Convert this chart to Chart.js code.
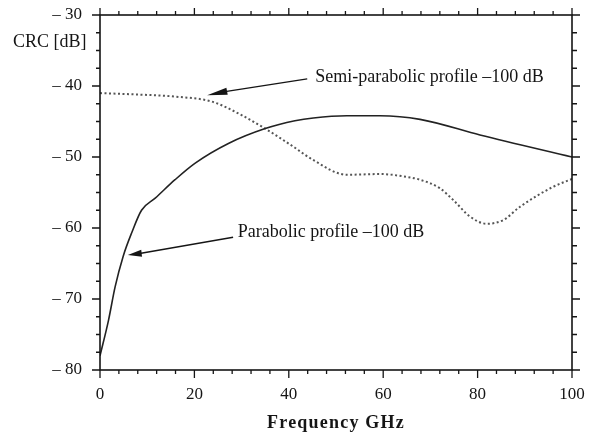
<!DOCTYPE html>
<html>
<head>
<meta charset="utf-8">
<script src="https://cdn.jsdelivr.net/npm/chart.js@4/dist/chart.umd.min.js"></script>
<style>
  html, body { margin: 0; padding: 0; background: #fff; }
  #wrap { width: 592px; height: 438px; position: relative; }
</style>
</head>
<body>
<div id="wrap"><canvas id="crcChart"></canvas></div>
<script>
// Crosstalk (CRC) vs frequency for two index profiles
const parabolicFreq = [0, 1.8, 3.2, 4.9, 6.7, 8.8, 11.7, 15.9, 20.1, 27.2, 35, 41.3, 45.2, 52.3, 59.3, 67.8, 80.5, 100];
const parabolicCrc  = [-78, -73, -68.3, -64, -60.7, -57.5, -55.8, -53.2, -50.9, -48.1, -46, -44.9, -44.5, -44.2, -44.2, -44.7, -46.9, -50];

const semiFreq = [0, 8, 16, 23.7, 30, 35, 38.1, 41.3, 45.1, 52.3, 59.3, 65, 67.8, 72, 74.9, 78.4, 81.9, 85.4, 89, 96, 100];
const semiCrc  = [-41, -41.2, -41.5, -42.2, -44.1, -46, -47.3, -48.7, -50.4, -52.5, -52.4, -52.8, -53.2, -54.4, -56.1, -58.4, -59.4, -58.9, -57, -54.2, -53.1];

const xTicks = [0, 20, 40, 60, 80, 100];
const yTicks = [-80, -70, -60, -50, -40, -30];

// labels with arrows, in data units (GHz, dB)
const notes = [
  { text: 'Semi-parabolic profile \u2013100 dB', at: [45.6, -38.7], tail: [43.9, -39.0], head: [26.5, -40.8], tip: [22.7, -41.3] },
  { text: 'Parabolic profile \u2013100 dB', at: [29.2, -60.6], tail: [28.2, -61.3], head: [8.4, -63.6], tip: [5.9, -63.8] }
];

const SERIF = "'Liberation Serif', 'DejaVu Serif', serif";
const INK = '#151515';

function toPoints(xs, ys) {
  return xs.map((x, i) => ({ x: x, y: ys[i] }));
}

// frame on all four sides plus major/minor tick marks, annotations and x title
const framePlugin = {
  id: 'frame',
  afterDraw(chart) {
    const ctx = chart.ctx;
    const a = chart.chartArea;
    const xs = chart.scales.x;
    const ys = chart.scales.y;
    ctx.save();
    ctx.strokeStyle = INK;
    ctx.lineWidth = 1.6;
    ctx.strokeRect(a.left, a.top, a.right - a.left, a.bottom - a.top);

    ctx.lineWidth = 1.3;
    ctx.beginPath();
    for (let f = 0; f <= 100; f += 4) {
      const px = xs.getPixelForValue(f);
      const major = f % 20 === 0;
      ctx.moveTo(px, a.bottom); ctx.lineTo(px, a.bottom + (major ? 8 : 4));
      ctx.moveTo(px, a.top); ctx.lineTo(px, a.top - (major ? 7 : 4));
    }
    for (let v = -80; v <= -30; v += 2.5) {
      const py = ys.getPixelForValue(v);
      const major = v % 10 === 0;
      ctx.moveTo(a.left, py); ctx.lineTo(a.left - (major ? 8 : 4), py);
      ctx.moveTo(a.right, py); ctx.lineTo(a.right + (major ? 8 : 5), py);
    }
    ctx.stroke();

    // annotations
    ctx.fillStyle = INK;
    ctx.font = '18px ' + SERIF;
    ctx.textBaseline = 'middle';
    ctx.textAlign = 'left';
    notes.forEach(n => {
      const P = p => [xs.getPixelForValue(p[0]), ys.getPixelForValue(p[1])];
      const t = P(n.at), tl = P(n.tail), hd = P(n.head), tp = P(n.tip);
      ctx.fillText(n.text, t[0], t[1]);
      ctx.lineWidth = 1.4;
      ctx.beginPath();
      ctx.moveTo(tl[0], tl[1]);
      ctx.lineTo(hd[0], hd[1]);
      ctx.stroke();
      const ang = Math.atan2(tp[1] - hd[1], tp[0] - hd[0]);
      const len = Math.hypot(tp[0] - hd[0], tp[1] - hd[1]) + 2;
      ctx.beginPath();
      ctx.moveTo(tp[0], tp[1]);
      ctx.lineTo(tp[0] - len * Math.cos(ang) + 3.5 * Math.sin(ang), tp[1] - len * Math.sin(ang) - 3.5 * Math.cos(ang));
      ctx.lineTo(tp[0] - len * Math.cos(ang) - 3.5 * Math.sin(ang), tp[1] - len * Math.sin(ang) + 3.5 * Math.cos(ang));
      ctx.closePath();
      ctx.fill();
    });

    // axis captions
    ctx.font = '18px ' + SERIF;
    ctx.textAlign = 'left';
    ctx.fillText('CRC [dB]', 13, ys.getPixelForValue(-33.9));

    ctx.font = 'bold 18px ' + SERIF;
    ctx.textAlign = 'center';
    ctx.letterSpacing = '1.2px';
    ctx.fillText('Frequency GHz', (a.left + a.right) / 2, 423);
    ctx.restore();
  }
};

new Chart(document.getElementById('crcChart'), {
  type: 'line',
  data: {
    datasets: [
      {
        label: 'Parabolic profile -100 dB',
        data: toPoints(parabolicFreq, parabolicCrc),
        borderColor: '#222',
        borderWidth: 1.6,
        pointRadius: 0,
        cubicInterpolationMode: 'monotone',
        fill: false
      },
      {
        label: 'Semi-parabolic profile -100 dB',
        data: toPoints(semiFreq, semiCrc),
        borderColor: '#555',
        borderWidth: 2,
        borderDash: [2, 2.5],
        pointRadius: 0,
        cubicInterpolationMode: 'monotone',
        fill: false
      }
    ]
  },
  options: {
    responsive: true,
    maintainAspectRatio: false,
    animation: false,
    layout: { padding: { left: 0, right: 20, top: 15, bottom: 0 } },
    plugins: {
      legend: { display: false },
      tooltip: { enabled: false }
    },
    scales: {
      x: {
        type: 'linear',
        min: 0,
        max: 100,
        afterFit: s => { s.height = 68; s.paddingLeft = 0; s.paddingRight = 0; },
        afterBuildTicks: s => { s.ticks = xTicks.map(v => ({ value: v })); },
        ticks: {
          padding: 14,
          color: INK,
          font: { family: SERIF, size: 17 },
          maxRotation: 0
        },
        grid: { display: false, drawTicks: false },
        border: { display: false }
      },
      y: {
        min: -80,
        max: -30,
        afterFit: s => { s.width = 100; s.paddingTop = 0; s.paddingBottom = 0; },
        afterBuildTicks: s => { s.ticks = yTicks.map(v => ({ value: v })); },
        ticks: {
          padding: 18,
          color: INK,
          font: { family: SERIF, size: 17 },
          callback: v => '\u2013 ' + Math.abs(v)
        },
        grid: { display: false, drawTicks: false },
        border: { display: false }
      }
    }
  },
  plugins: [framePlugin]
});
</script>
</body>
</html>
